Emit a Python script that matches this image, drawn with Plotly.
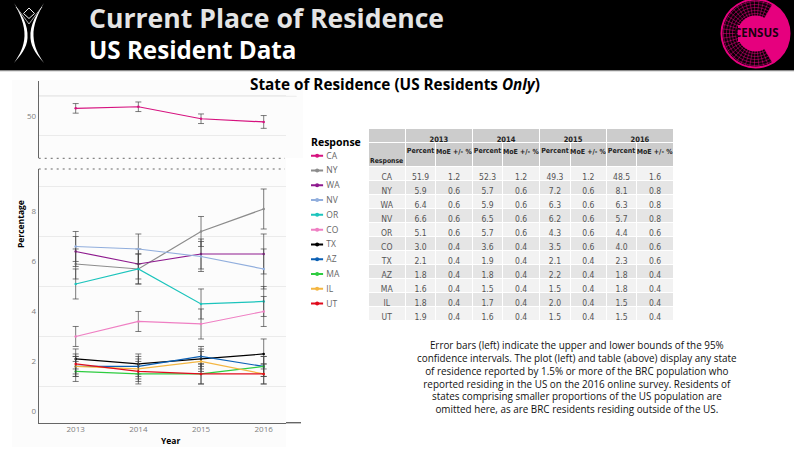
import math
import plotly.graph_objects as go

W, H = 794, 464
YEARS = [2013, 2014, 2015, 2016]
STATES = ["CA", "NY", "WA", "NV", "OR", "CO", "TX", "AZ", "MA", "IL", "UT"]
PCT_2013 = [51.9, 5.9, 6.4, 6.6, 5.1, 3.0, 2.1, 1.8, 1.6, 1.8, 1.9]
MOE_2013 = [1.2, 0.6, 0.6, 0.6, 0.6, 0.4, 0.4, 0.4, 0.4, 0.4, 0.4]
PCT_2014 = [52.3, 5.7, 5.9, 6.5, 5.7, 3.6, 1.9, 1.8, 1.5, 1.7, 1.6]
MOE_2014 = [1.2, 0.6, 0.6, 0.6, 0.6, 0.4, 0.4, 0.4, 0.4, 0.4, 0.4]
PCT_2015 = [49.3, 7.2, 6.3, 6.2, 4.3, 3.5, 2.1, 2.2, 1.5, 2.0, 1.5]
MOE_2015 = [1.2, 0.6, 0.6, 0.6, 0.6, 0.6, 0.4, 0.4, 0.4, 0.4, 0.4]
PCT_2016 = [48.5, 8.1, 6.3, 5.7, 4.4, 4.0, 2.3, 1.8, 1.8, 1.5, 1.5]
MOE_2016 = [1.6, 0.8, 0.8, 0.8, 0.6, 0.6, 0.6, 0.4, 0.4, 0.4, 0.4]
COLORS = ["#d6127f", "#8c8c8c", "#8e1a8e", "#91aedd", "#1cc4bc", "#ef7fc3",
          "#000000", "#0a5fb4", "#2ecc40", "#f4b642", "#e00b1c"]
NOTE = ["Error bars (left) indicate the upper and lower bounds of the 95%",
        "confidence intervals. The plot (left) and table (above) display any state",
        "of residence reported by 1.5% or more of the BRC population who",
        "reported residing in the US on the 2016 online survey. Residents of",
        "states comprising smaller proportions of the US population are",
        "omitted here, as are BRC residents residing outside of the US."]

PCTS = [PCT_2013, PCT_2014, PCT_2015, PCT_2016]
MOES = [MOE_2013, MOE_2014, MOE_2015, MOE_2016]
X = lambda p: p / W
Y = lambda p: 1 - p / H
OS = "Open Sans"
NARROW = "DejaVu Sans Condensed, Roboto, sans-serif"

fig = go.Figure()
for i, s in enumerate(STATES):
    upper = s == "CA"
    fig.add_trace(go.Scatter(
        x=YEARS, y=[c[i] for c in PCTS], mode="lines+markers", name=s,
        xaxis="x2" if upper else "x", yaxis="y2" if upper else "y",
        line=dict(color=COLORS[i], width=1.2), marker=dict(color=COLORS[i], size=2.5),
        error_y=dict(type="data", array=[c[i] for c in MOES], color="#444444", thickness=0.7, width=3),
        showlegend=False))
    fig.add_trace(go.Scatter(
        x=[0, 0.5, 1], y=[s, s, s], mode="lines", xaxis="x3", yaxis="y3", showlegend=False,
        line=dict(color=COLORS[i], width=2)))
    fig.add_trace(go.Scatter(
        x=[0.5], y=[s], mode="markers", xaxis="x3", yaxis="y3", showlegend=False,
        marker=dict(color=COLORS[i], size=4)))

cols = [368.3, 405.3, 436, 472.7, 503, 540, 570.7, 607, 637.3, 674]
cw = [cols[i + 1] - cols[i] for i in range(9)]
body = [STATES]
hdr = [""]
for p, m in zip(PCTS, MOES):
    body += [[f"{v:.1f}" for v in p], [f"{v:.1f}" for v in m]]
    hdr += ["Percent", "MoE&nbsp;+/-&nbsp;%"]
rowfill = ["#f2f2f2" if r % 2 == 0 else "#e5e5e5" for r in range(11)]
fig.add_trace(go.Table(
    domain=dict(x=[X(368.3), X(674)], y=[Y(321), Y(140)]),
    columnwidth=cw,
    header=dict(values=hdr, height=26, fill_color="#cccccc", line=dict(color="white", width=1),
                align="center", font=dict(family=NARROW, size=7, color="#222222", weight="bold")),
    cells=dict(values=body, height=14, fill_color=[rowfill] * 9, line=dict(color="white", width=1),
               align="center", font=dict(family=NARROW, size=8.5, color="#555555"))))
fig.add_trace(go.Table(
    domain=dict(x=[X(368.3), X(674)], y=[Y(143), Y(128)]),
    columnwidth=[cw[0], cw[1] + cw[2], cw[3] + cw[4], cw[5] + cw[6], cw[7] + cw[8]],
    header=dict(values=[""] + [str(y) for y in YEARS], height=14, fill_color="#cccccc",
                line=dict(color="white", width=1), align="center",
                font=dict(family=NARROW, size=7.5, color="#222222", weight="bold")),
    cells=dict(values=[[""] for _ in range(5)], height=1, fill_color="white", line=dict(color="white", width=0))))

shapes = []
def rect(x0, y0, x1, y1, fill, layer="below"):
    shapes.append(dict(type="rect", xref="paper", yref="paper", x0=X(x0), x1=X(x1), y0=Y(y0), y1=Y(y1),
                       fillcolor=fill, line_width=0, layer=layer))
def hline(x0, x1, y, color, width=1, dash="solid", layer="above"):
    shapes.append(dict(type="line", xref="paper", yref="paper", x0=X(x0), x1=X(x1), y0=Y(y), y1=Y(y),
                       line=dict(color=color, width=width, dash=dash), layer=layer))
def path(d, fill=None, line=None, width=0):
    shapes.append(dict(type="path", xref="paper", yref="paper", path=d,
                       fillcolor=fill or "rgba(0,0,0,0)",
                       line=dict(color=line or "rgba(0,0,0,0)", width=width), layer="above"))
def pt(x, y):
    return f"{X(x):.5f},{Y(y):.5f}"

rect(0, 0, W, 70, "#000000")
hline(0, W, 70.7, "#8a8a8a", 1.2)
rect(12, 80, 303, 158, "#fcfcfc")
rect(12, 158, 286, 447, "#fcfcfc")
hline(38.7, 296.7, 96.3, "#ebebeb", 1, layer="below")
hline(38.7, 285, 158.3, "#666666", 1, "2px,4px")
hline(38.7, 285, 169, "#666666", 1, "2px,4px")
hline(286, 301, 422.7, "#666666", 1.4)

for m in (1, -1):
    xx = lambda v: 29 + m * (v - 29)
    path(f"M{pt(xx(14),3)} C{pt(xx(21),14)} {pt(xx(28.5),24)} {pt(xx(27.5),38)} "
         f"C{pt(xx(27),48)} {pt(xx(20),56)} {pt(xx(14),63)} "
         f"C{pt(xx(20),54)} {pt(xx(24),47)} {pt(xx(24.5),36)} "
         f"C{pt(xx(25),25)} {pt(xx(20),14)} {pt(xx(14),3)} Z", fill="#ffffff")
    path(f"M{pt(xx(16),7)} C{pt(xx(21),13)} {pt(xx(26),20)} {pt(29,24)}", line="#dddddd", width=0.8)
path(f"M{pt(29,8)} L{pt(23.5,13.5)} L{pt(29,18.5)} L{pt(34.5,13.5)} Z", line="#eeeeee", width=1)

cx, cy, R = 755.5, 33.5, 35
PINK = "#e6007e"
def circle(r, fill=None, line=None, width=0):
    shapes.append(dict(type="circle", xref="paper", yref="paper", x0=X(cx - r), x1=X(cx + r),
                       y0=Y(cy + r), y1=Y(cy - r), fillcolor=fill or "rgba(0,0,0,0)",
                       line=dict(color=line or "rgba(0,0,0,0)", width=width), layer="above"))
def polar(r, deg):
    return cx + r * math.cos(math.radians(deg)), cy - r * math.sin(math.radians(deg))
circle(R, fill=PINK)
sector = [polar(33, a) for a in range(60, 301, 6)] + [polar(14, a) for a in range(300, 59, -6)]
path("M" + " L".join(pt(*p) for p in sector) + " Z", fill="#0a0006")
for r in (17, 20, 23, 26, 29, 32):
    path("M" + " L".join(pt(*polar(r, a)) for a in range(60, 301, 6)), line=PINK, width=0.5)
for a in range(60, 301, 8):
    path(f"M{pt(*polar(15, a))} L{pt(*polar(33, a))}", line=PINK, width=0.5)
circle(18, fill=PINK)
rect(738, 25, 778, 42, PINK, layer="above")

ann = []
def text(x, y, s, size, color="#000000", anchor="center", weight=None, angle=0):
    f = dict(family=OS, size=size, color=color)
    if weight:
        f["weight"] = weight
    ann.append(dict(xref="paper", yref="paper", x=X(x), y=Y(y), text=s, showarrow=False, font=f,
                    xanchor=anchor, yanchor="middle", textangle=angle, align=anchor if anchor != "center" else "center"))
text(87, 33,
     "<span style='font-size:26.6px;color:#e4e4e4'>Current Place of Residence</span><br>US Resident Data",
     24.2, "#ffffff", "left", "bold")
text(395, 84, "<b>State of Residence (US Residents <i>Only</i>)</b>", 15.3, "#000000")
text(20, 224, "Percentage", 8.5, "#000000", weight="bold", angle=-90)
text(170.5, 440.5, "Year", 8.5, "#000000", weight="bold")
text(308.5, 141.5, "Response", 10.5, "#000000", "left", "bold")
text(755.5, 33, "CENSUS", 11.5, "#1a0010", weight="bold")
text(577, 376.5, "<br>".join(NOTE), 9.9, "#111111")
ann.append(dict(xref="paper", yref="paper", x=X(386.8), y=Y(160.5), text="<b>Response</b>", showarrow=False,
                font=dict(family=NARROW, size=6.8, color="#222222"), xanchor="center", yanchor="middle"))

tickfont = dict(family=OS, size=8, color="#7f7f7f")
axline = dict(showline=True, linecolor="#666666", zeroline=False, fixedrange=True)
fig.update_layout(
    width=W, height=H, margin=dict(l=0, r=0, t=0, b=0), autosize=False,
    paper_bgcolor="white", plot_bgcolor="rgba(0,0,0,0)", showlegend=False,
    shapes=shapes, annotations=ann,
    xaxis=dict(domain=[X(38.7), X(286)], range=[2012.41, 2016.356], anchor="y", tickvals=YEARS,
               showgrid=False, tickfont=tickfont, ticks="", ticklabelstandoff=-2, linewidth=1.4, **axline),
    xaxis2=dict(domain=[X(38.7), X(286)], range=[2012.41, 2016.356], anchor="y2", visible=False),
    yaxis=dict(domain=[Y(422.7), Y(169)], range=[-0.45, 9.7], anchor="x", tickvals=[0, 2, 4, 6, 8],
               showgrid=False, minor=dict(tickvals=[1, 3, 5, 7, 9], showgrid=True, gridcolor="#ebebeb", gridwidth=1, ticks=""),
               tickfont=tickfont, ticks="", linewidth=1, **axline),
    yaxis2=dict(domain=[Y(158.3), Y(81)], range=[39.4, 58.75], anchor="x2", tickvals=[50],
                showgrid=False, minor=dict(tickvals=[45, 55], showgrid=True, gridcolor="#ebebeb", gridwidth=1, ticks=""),
                tickfont=tickfont, ticks="", linewidth=1, **axline),
    xaxis3=dict(domain=[X(311), X(323.3)], range=[0, 1], anchor="y3", visible=False),
    yaxis3=dict(domain=[Y(311), Y(148.3)], type="category", categoryorder="array", categoryarray=STATES,
                range=[10.5, -0.5], anchor="x3", side="right", showgrid=False, zeroline=False, showline=False,
                ticks="", ticklabelstandoff=2, tickfont=dict(family=OS, size=8.5, color="#666666")),
)
fig.write_html("out.html", config=dict(displayModeBar=False), post_script="document.body.style.margin='0';")
